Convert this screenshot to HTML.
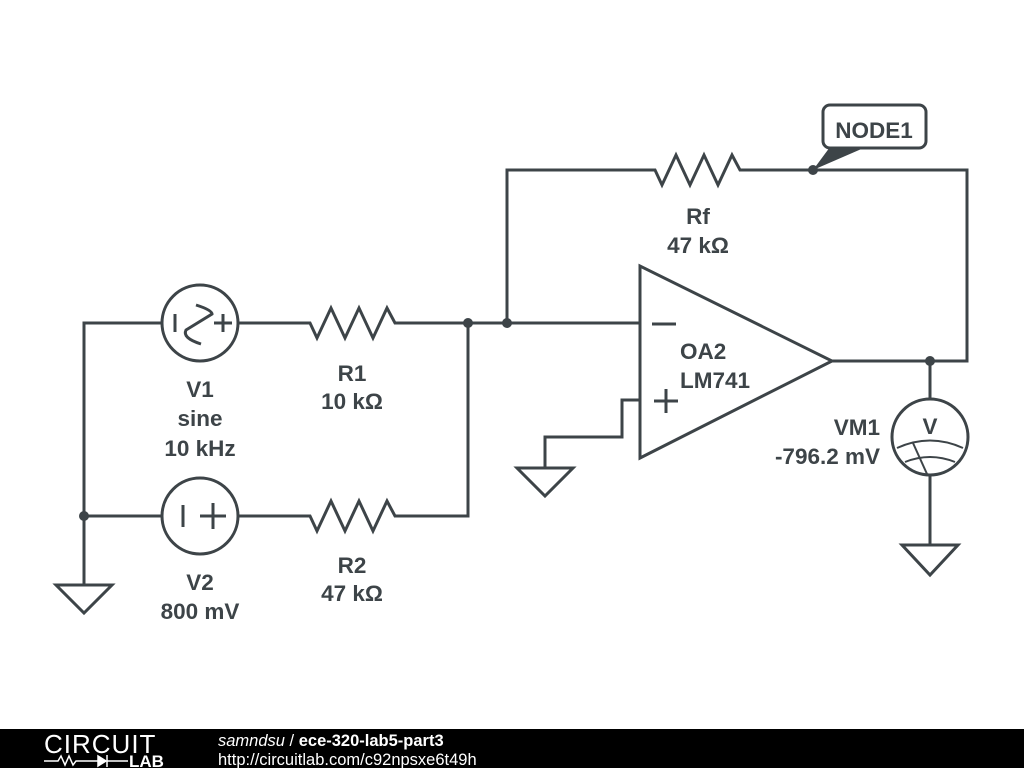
<!DOCTYPE html>
<html><head><meta charset="utf-8"><style>
html,body{margin:0;padding:0;background:#fff;width:1024px;height:768px;overflow:hidden}
svg{display:block}
text{font-family:"Liberation Sans",sans-serif;fill:#3d4448;font-weight:bold;font-size:22.5px}
</style></head><body>
<svg width="1024" height="768" viewBox="0 0 1024 768">
<g stroke="#3d4448" stroke-width="3" fill="none" stroke-linejoin="miter">
<polyline points="162,323 84,323 84,585"/>
<line x1="84" y1="516" x2="162" y2="516"/>
<polygon points="56,585 112,585 84,613"/>
<circle cx="200" cy="323" r="38"/>
<line x1="175" y1="314" x2="175" y2="332"/>
<line x1="214" y1="323" x2="232" y2="323"/><line x1="223" y1="314" x2="223" y2="332"/>
<path d="M196,305 Q212,310 212,314 L186,330 Q182,338 201,344"/>
<circle cx="200" cy="516" r="38"/>
<line x1="183" y1="505" x2="183" y2="527"/>
<line x1="200" y1="516" x2="226" y2="516"/><line x1="213" y1="503" x2="213" y2="529"/>
<polyline points="238,323 310,323 317,338 331,308 345,338 359,308 373,338 387,308 395,323 640,323"/>
<polyline points="238,516 310,516 317,531 331,501 345,531 359,501 373,531 387,501 395,516 468,516 468,323"/>
<polyline points="507,323 507,170 655,170 662,185 676,155 690,185 704,155 718,185 732,155 740,170 967,170 967,361 832,361"/>
<polygon points="640,266 640,458 832,361"/>
<line x1="652" y1="324" x2="676" y2="324"/>
<line x1="654" y1="401" x2="678" y2="401"/><line x1="666" y1="389" x2="666" y2="413"/>
<polyline points="640,400 622,400 622,437 545,437 545,468"/>
<polygon points="517,468 573,468 545,496"/>
<line x1="930" y1="361" x2="930" y2="399"/>
<circle cx="930" cy="437" r="38"/>
<polyline points="930,475 930,545"/>
<polygon points="902,545 958,545 930,575"/>
<path d="M897,448 Q930,433 963,448" stroke-width="2"/>
<path d="M905,462 Q930,452 955,462" stroke-width="2"/>
<line x1="913" y1="443" x2="927" y2="474" stroke-width="2"/>
<rect x="823" y="105" width="103" height="43" rx="7" fill="#fff"/>
</g>
<polygon points="813,170 830,147 866,147" fill="#3d4448"/>
<g fill="#3d4448">
<circle cx="84" cy="516" r="5"/><circle cx="468" cy="323" r="5"/><circle cx="507" cy="323" r="5"/>
<circle cx="813" cy="170" r="5"/><circle cx="930" cy="361" r="5"/>
</g>
<text x="930" y="434" text-anchor="middle" font-size="27">V</text>
<text x="874" y="138" text-anchor="middle">NODE1</text>
<text x="698" y="224" text-anchor="middle">Rf</text>
<text x="698" y="253" text-anchor="middle">47 kΩ</text>
<text x="680" y="359">OA2</text>
<text x="680" y="388">LM741</text>
<text x="880" y="435" text-anchor="end">VM1</text>
<text x="880" y="464" text-anchor="end">-796.2 mV</text>
<text x="200" y="397" text-anchor="middle">V1</text>
<text x="200" y="426" text-anchor="middle">sine</text>
<text x="200" y="456" text-anchor="middle">10 kHz</text>
<text x="352" y="381" text-anchor="middle">R1</text>
<text x="352" y="409" text-anchor="middle">10 kΩ</text>
<text x="200" y="590" text-anchor="middle">V2</text>
<text x="200" y="619" text-anchor="middle">800 mV</text>
<text x="352" y="573" text-anchor="middle">R2</text>
<text x="352" y="601" text-anchor="middle">47 kΩ</text>
<rect x="0" y="729" width="1024" height="39" fill="#000"/>
<text x="44" y="753" style="font-weight:normal;fill:#fff;font-size:26px;letter-spacing:1px">CIRCUIT</text>
<g stroke="#fff" stroke-width="1.5" fill="none">
<polyline points="44,761 58,761 61,756 65,765 69,756 73,765 76,761 98,761"/>
<polygon points="98,756 98,766 106,761" fill="#fff"/><line x1="107" y1="755" x2="107" y2="767"/><line x1="107" y1="761" x2="128" y2="761"/>
</g>
<text x="129" y="767" style="fill:#fff;font-size:17px">LAB</text>
<text x="218" y="746" style="fill:#fff;font-size:16.5px;font-weight:normal;font-style:italic">samndsu <tspan font-style="normal">/</tspan> <tspan font-weight="bold" font-style="normal">ece-320-lab5-part3</tspan></text>
<text x="218" y="765" style="fill:#fff;font-size:16.5px;font-weight:normal">http://circuitlab.com/c92npsxe6t49h</text>
</svg>
</body></html>
